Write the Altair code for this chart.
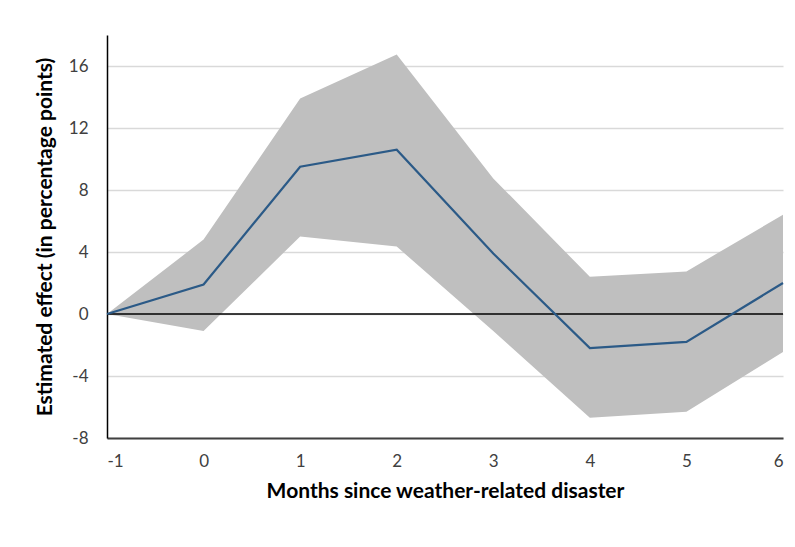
import altair as alt
import pandas as pd

months = [-1, 0, 1, 2, 3, 4, 5, 6]
estimate = [0.0, 1.9, 9.5, 10.6, 3.9, -2.2, -1.8, 2.0]
upper = [0.0, 4.8, 13.9, 16.75, 8.75, 2.4, 2.75, 6.4]
lower = [0.0, -1.1, 5.0, 4.35, -1.1, -6.7, -6.3, -2.45]
y_ticks = [-8, -4, 0, 4, 8, 12, 16]

df = pd.DataFrame({"month": months, "est": estimate, "hi": upper, "lo": lower})

FONT = "Lato"
LABEL_EXPR = "datum.value < 0 ? '-' + abs(datum.value) : '' + datum.value"

x_enc = alt.X(
    "month:Q",
    scale=alt.Scale(domain=[-1, 6], nice=False, zero=False),
    axis=alt.Axis(
        values=months, title="Months since weather-related disaster",
        grid=False, ticks=False, domainColor="#404040", domainWidth=2,
        labelFontSize=17, labelColor="#404040", labelPadding=15,
        titleFontSize=21, titleFontWeight="bold", titleColor="#000000",
        titlePadding=11, labelFont=FONT, titleFont=FONT,
        labelExpr=LABEL_EXPR,
    ),
)

band = alt.Chart(df).mark_area(color="#bfbfbf", opacity=1).encode(
    x=x_enc,
    y=alt.Y(
        "lo:Q",
        scale=alt.Scale(domain=[-8, 18], nice=False),
        axis=alt.Axis(
            values=y_ticks, title="Estimated effect (in percentage points)",
            grid=True, gridColor="#d9d9d9", gridWidth=1.5, ticks=False,
            domainColor="#000000", domainWidth=1.5,
            labelFontSize=17, labelColor="#404040", labelPadding=19,
            titleFontSize=21, titleFontWeight="bold", titleColor="#000000",
            titlePadding=13, labelFont=FONT, titleFont=FONT,
            labelExpr=LABEL_EXPR,
        ),
    ),
    y2="hi:Q",
)

zero = alt.Chart(pd.DataFrame({"z": [0]})).mark_rule(color="#000000", strokeWidth=1.5).encode(
    y="z:Q"
)

line = alt.Chart(df).mark_line(color="#2b5a87", strokeWidth=2.2).encode(
    x="month:Q", y="est:Q"
)

chart = (
    alt.layer(band, zero, line)
    .properties(
        width=676, height=403,
        autosize=alt.AutoSizeParams(type="none"),
        padding={"left": 99, "top": 27, "right": 4, "bottom": 90},
        background="white",
    )
    .configure_view(stroke=None)
)

chart.save("out.html", embed_options={"renderer": "svg", "actions": False})
